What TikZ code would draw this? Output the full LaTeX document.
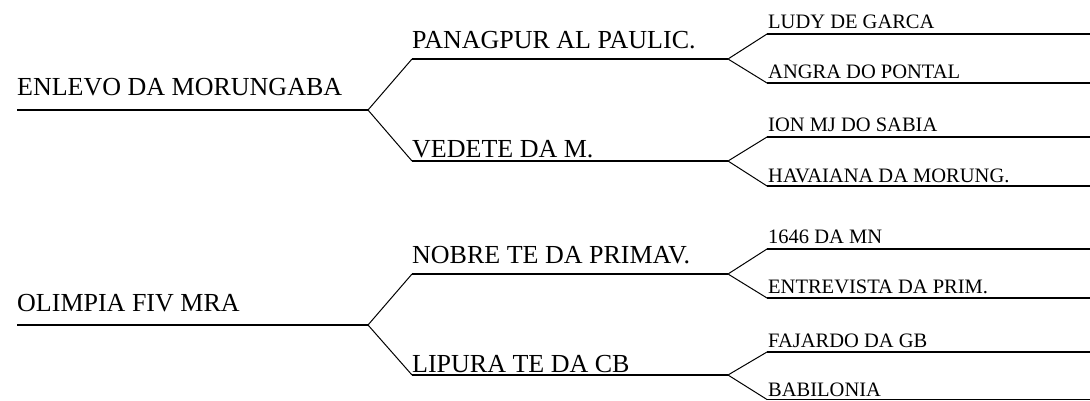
\documentclass[tikz,border=0pt]{standalone}
\usepackage{fontspec}
\setmainfont{Liberation Serif}
\begin{document}
\begin{tikzpicture}[x=1pt,y=-1pt,
  hl/.style={line width=1.4pt,black},
  dl/.style={line width=1.0pt,black},
  big/.style={anchor=base west,inner sep=0pt,font=\fontsize{26}{30}\selectfont},
  small/.style={anchor=base west,inner sep=0pt,font=\fontsize{20.5}{24}\selectfont}]
\useasboundingbox (0,0) rectangle (1090,400);
% ---------- top group ----------
\coordinate (r1s) at (17,110);
\coordinate (j1) at (368,110);
\coordinate (a1s) at (412,59);  \coordinate (a1e) at (728,59);
\coordinate (b1s) at (412,161); \coordinate (b1e) at (728,161);
\coordinate (c1s) at (767,34);  \coordinate (c1e) at (1090,34);
\coordinate (c2s) at (767,83);  \coordinate (c2e) at (1090,83);
\coordinate (c3s) at (767,137); \coordinate (c3e) at (1090,137);
\coordinate (c4s) at (767,186); \coordinate (c4e) at (1090,186);
\node[big] (t1) at (17,95) {ENLEVO DA MORUNGABA};
\node[big] (t1a) at (412,48) {PANAGPUR AL PAULIC.};
\node[big] (t1b) at (412,157) {VEDETE DA M.};
\node[small] (t1c1) at (768,28) {LUDY DE GARCA};
\node[small] (t1c2) at (768,78) {ANGRA DO PONTAL};
\node[small] (t1c3) at (768,131) {ION MJ DO SABIA};
\node[small] (t1c4) at (768,182) {HAVAIANA DA MORUNG.};
\draw[hl] (r1s) -- (j1);
\draw[dl] (j1) -- (a1s); \draw[hl] (a1s) -- (a1e);
\draw[dl] (j1) -- (b1s); \draw[hl] (b1s) -- (b1e);
\draw[dl] (a1e) -- (c1s); \draw[hl] (c1s) -- (c1e);
\draw[dl] (a1e) -- (c2s); \draw[hl] (c2s) -- (c2e);
\draw[dl] (b1e) -- (c3s); \draw[hl] (c3s) -- (c3e);
\draw[dl] (b1e) -- (c4s); \draw[hl] (c4s) -- (c4e);
% ---------- bottom group ----------
\coordinate (r2s) at (17,325);
\coordinate (j2) at (368,325);
\coordinate (a2s) at (412,274); \coordinate (a2e) at (728,274);
\coordinate (b2s) at (412,375); \coordinate (b2e) at (728,375);
\coordinate (d1s) at (767,249); \coordinate (d1e) at (1090,249);
\coordinate (d2s) at (767,298); \coordinate (d2e) at (1090,298);
\coordinate (d3s) at (767,352); \coordinate (d3e) at (1090,352);
\coordinate (d4s) at (767,399.5); \coordinate (d4e) at (1090,399.5);
\node[big] (t2) at (17,311) {OLIMPIA FIV MRA};
\node[big] (t2a) at (412,263) {NOBRE TE DA PRIMAV.};
\node[big] (t2b) at (412,372) {LIPURA TE DA CB};
\node[small] (t2c1) at (768,243) {1646 DA MN};
\node[small] (t2c2) at (768,293) {ENTREVISTA DA PRIM.};
\node[small] (t2c3) at (768,347) {FAJARDO DA GB};
\node[small] (t2c4) at (768,396) {BABILONIA};
\draw[hl] (r2s) -- (j2);
\draw[dl] (j2) -- (a2s); \draw[hl] (a2s) -- (a2e);
\draw[dl] (j2) -- (b2s); \draw[hl] (b2s) -- (b2e);
\draw[dl] (a2e) -- (d1s); \draw[hl] (d1s) -- (d1e);
\draw[dl] (a2e) -- (d2s); \draw[hl] (d2s) -- (d2e);
\draw[dl] (b2e) -- (d3s); \draw[hl] (d3s) -- (d3e);
\draw[dl] (b2e) -- (d4s); \draw[hl] (d4s) -- (d4e);
\end{tikzpicture}
\end{document}
